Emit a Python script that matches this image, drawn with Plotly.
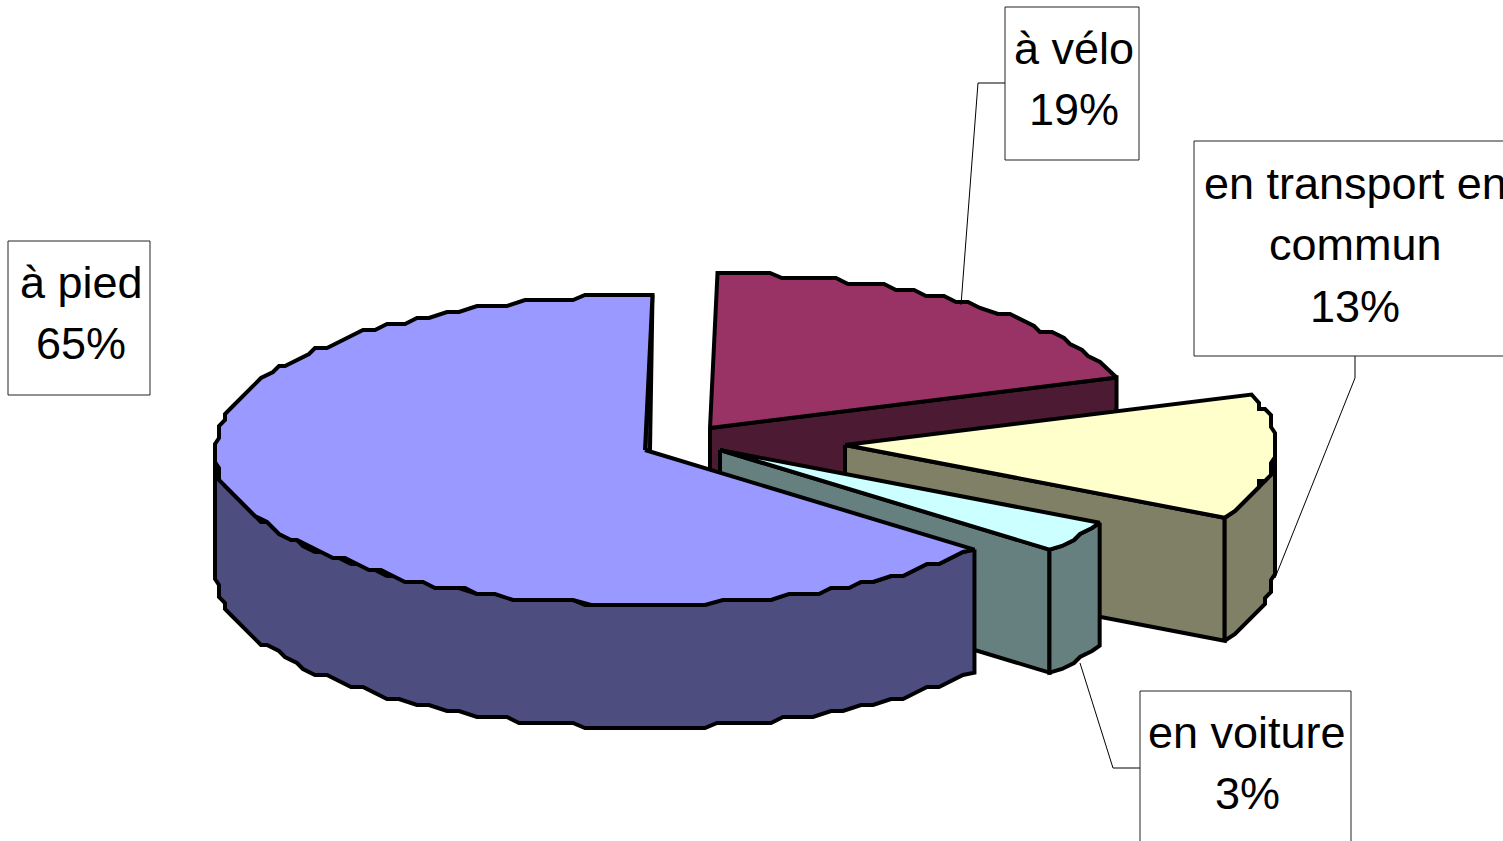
import numpy as np
import plotly.graph_objects as go

# Data
CATEGORIES = ["à vélo", "en transport en commun", "en voiture", "à pied"]
PRINTED_PCT = [19, 13, 3, 65]             # percentages printed in the labels
DRAWN_SHARE = [19.44, 13.06, 3.33, 64.17]
TOP_COLORS = ["#993366", "#FFFFCC", "#CCFFFF", "#9999FF"]
SIDE_COLORS = ["#4D1A33", "#808066", "#668080", "#4D4D80"]
APEX_X = [710, 845, 720, 645]
APEX_Y = [428, 445, 450, 450]
LABEL_LINES = [["à vélo"], ["en transport en", "commun"], ["en voiture"], ["à pied"]]
LABEL_X = [1074, 1355, 1247, 81]
LABEL_TOP_Y = [48, 183, 732, 282]
BOX_X0 = [1005, 1194, 1140, 8]
BOX_X1 = [1139, 1515, 1351, 150]
BOX_Y0 = [7, 141, 691, 241]
BOX_Y1 = [160, 356, 855, 395]
LEADER_X = [[961, 978, 1005], [1355, 1355, 1275], [1080, 1113, 1140]]
LEADER_Y = [[305, 83, 83], [356, 378, 578], [663, 768, 768]]

RX, RY, DEPTH = 430, 155, 123
START_ANGLE = 1.0
LINE_H = 61.5
FONT = "Liberation Sans"
GRID = 6.0


def arc(i, a0, a1):
    """Rim of slice i between angles a0..a1 (degrees, clockwise from top),
    snapped to a coarse grid like the ragged outline of the original."""
    n = max(2, int(abs(a1 - a0) / 2.2) + 1)
    t = np.radians(np.linspace(a0, a1, n))
    x = RX * np.sin(t)
    y = -RY * np.cos(t)
    x[1:-1] = np.clip(np.round(x[1:-1] / GRID) * GRID, -RX, RX)
    y[1:-1] = np.clip(np.round(y[1:-1] / GRID) * GRID, -RY, RY)
    return APEX_X[i] + x, APEX_Y[i] + y


def poly(xs, ys, color, name):
    return go.Scatter(
        x=list(xs) + [xs[0]], y=list(ys) + [ys[0]], mode="lines", fill="toself",
        fillcolor=color, line=dict(color="black", width=4), hoverinfo="skip",
        name=name, showlegend=False,
    )


fig = go.Figure()
edges = START_ANGLE + np.cumsum([0] + DRAWN_SHARE) * 3.6
for i, name in enumerate(CATEGORIES):
    a0, a1 = edges[i], edges[i + 1]
    ax, ay = APEX_X[i], APEX_Y[i]
    rx, ry = arc(i, a0, a1)
    if i < 3:  # radial face at the end of the slice
        ex, ey = rx[-1], ry[-1]
        fig.add_trace(poly([ax, ex, ex, ax], [ay, ey, ey + DEPTH, ay + DEPTH], SIDE_COLORS[i], name))
    else:      # thin sliver of the radial face at the start of the big slice
        fig.add_trace(poly([rx[-1], ax + 5, ax], [ry[-1], ay, ay], SIDE_COLORS[i], name))
    w0, w1 = max(a0, 90), min(a1, 270)
    if w1 > w0:  # outer front wall
        wx, wy = arc(i, w0, w1)
        fig.add_trace(poly(list(wx) + list(wx[::-1]), list(wy) + list(wy[::-1] + DEPTH), SIDE_COLORS[i], name))
    fig.add_trace(poly([ax] + list(rx), [ay] + list(ry), TOP_COLORS[i], name))

for lx, ly in zip(LEADER_X, LEADER_Y):
    fig.add_trace(go.Scatter(x=lx, y=ly, mode="lines", line=dict(color="black", width=1),
                             hoverinfo="skip", showlegend=False))

for i in range(4):
    fig.add_shape(type="rect", x0=BOX_X0[i], x1=BOX_X1[i], y0=BOX_Y0[i], y1=BOX_Y1[i],
                  line=dict(color="#222222", width=1), fillcolor="white", layer="above")
    for j, text in enumerate(LABEL_LINES[i] + [f"{PRINTED_PCT[i]}%"]):
        fig.add_annotation(x=LABEL_X[i], y=LABEL_TOP_Y[i] + j * LINE_H, text=text, showarrow=False,
                           xanchor="center", yanchor="middle",
                           font=dict(family=FONT, size=45, color="black"))

fig.update_layout(
    width=1503, height=841, margin=dict(l=0, r=0, t=0, b=0),
    paper_bgcolor="white", plot_bgcolor="white", showlegend=False,
    xaxis=dict(range=[0, 1503], visible=False, fixedrange=True),
    yaxis=dict(range=[841, 0], visible=False, fixedrange=True),
)
fig.write_html(
    "out.html",
    post_script="document.body.style.margin='0';document.body.style.overflow='hidden';",
    config={"displayModeBar": False},
)
